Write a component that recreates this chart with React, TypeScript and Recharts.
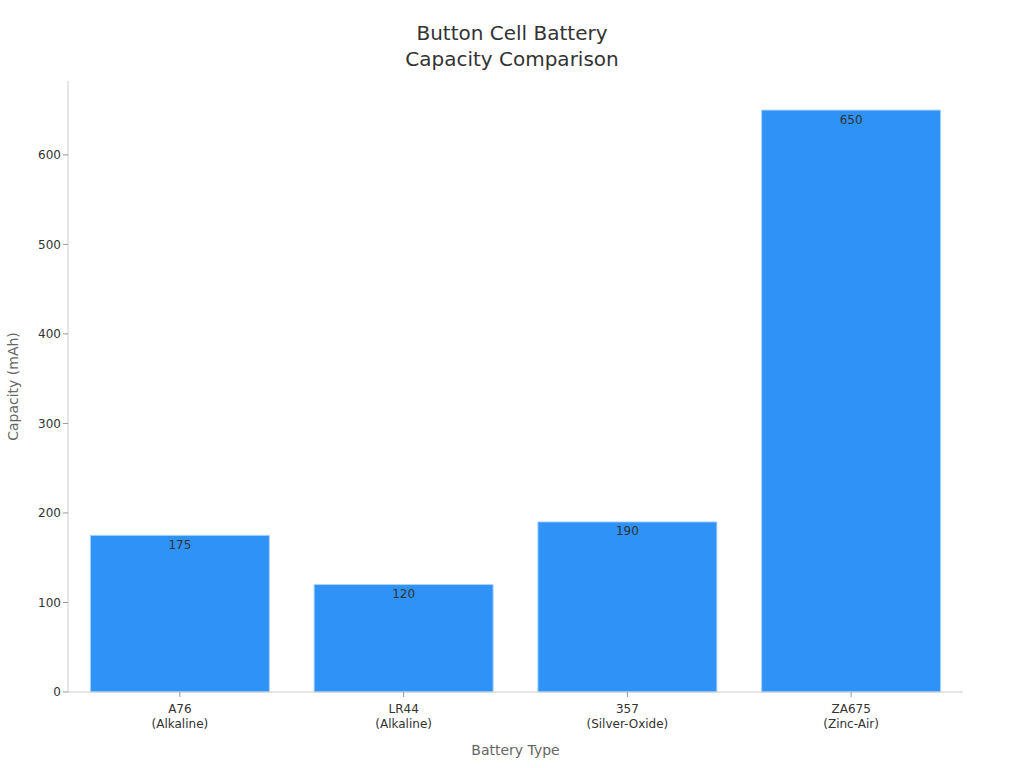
import React from 'react';
import { BarChart, Bar, XAxis, YAxis, LabelList } from 'recharts';

const batteryTypes = ['A76', 'LR44', '357', 'ZA675'];
const chemistries = ['(Alkaline)', '(Alkaline)', '(Silver-Oxide)', '(Zinc-Air)'];
const capacities = [175, 120, 190, 650];
const yTicks = [0, 100, 200, 300, 400, 500, 600];

const data = batteryTypes.map((name, i) => ({
  name,
  chemistry: chemistries[i],
  capacity: capacities[i],
}));

const FONT = '"DejaVu Sans", sans-serif';

function TwoLineTick(props: any) {
  const { x, y, payload, index } = props;
  return (
    <text x={x} y={y} textAnchor="middle" fill="#333" fontSize={12} fontFamily={FONT}>
      <tspan x={x} dy={14}>{payload.value}</tspan>
      <tspan x={x} dy={15}>{chemistries[index]}</tspan>
    </text>
  );
}

export default function App() {
  return (
    <div style={{ position: 'absolute', left: 0, top: 0, width: 1024, height: 768, background: '#fff', fontFamily: FONT }}>
      <div
        style={{
          position: 'absolute',
          top: 20,
          left: 0,
          width: 1024,
          textAlign: 'center',
          fontSize: 20,
          lineHeight: '26px',
          color: '#333',
        }}
      >
        Button Cell Battery
        <br />
        Capacity Comparison
      </div>
      <BarChart
        width={1024}
        height={768}
        data={data}
        margin={{ top: 81, right: 61, bottom: 6, left: 8 }}
        barCategoryGap="10%"
      >
        <XAxis
          dataKey="name"
          tick={<TwoLineTick />}
          tickLine={{ stroke: '#999' }}
          tickSize={5}
          axisLine={{ stroke: '#ccc' }}
          height={70}
          interval={0}
          label={{
            value: 'Battery Type',
            position: 'insideBottom',
            offset: 7,
            fill: '#666',
            fontSize: 14,
            fontFamily: FONT,
          }}
        />
        <YAxis
          domain={[0, 682.5]}
          ticks={yTicks}
          width={60}
          tick={{ fill: '#333', fontSize: 12, fontFamily: FONT }}
          tickLine={{ stroke: '#999' }}
          tickSize={5}
          axisLine={{ stroke: '#ccc' }}
          label={{
            value: 'Capacity (mAh)',
            angle: -90,
            position: 'insideLeft',
            offset: 5,
            fill: '#666',
            fontSize: 14,
            fontFamily: FONT,
            style: { textAnchor: 'middle' },
          }}
        />
        <Bar dataKey="capacity" fill="#2e92f7" stroke="#a9d4ff" strokeWidth={1} isAnimationActive={false}>
          <LabelList
            dataKey="capacity"
            position="insideTop"
            offset={5}
            fill="#333"
            fontSize={12}
            fontFamily={FONT}
          />
        </Bar>
      </BarChart>
    </div>
  );
}
